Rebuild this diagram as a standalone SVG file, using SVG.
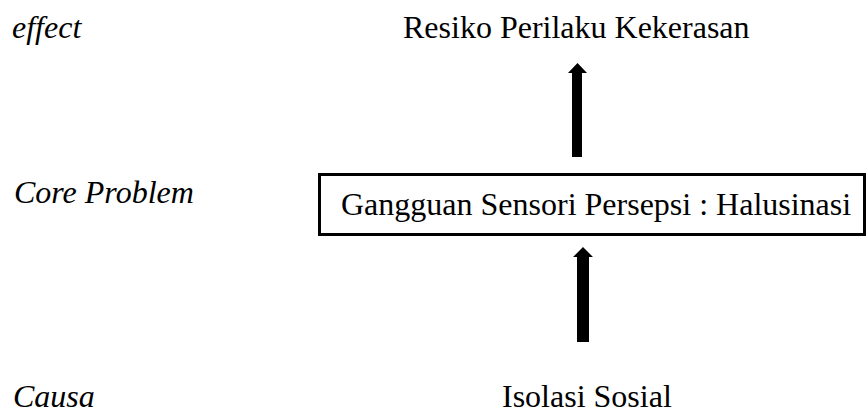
<svg xmlns="http://www.w3.org/2000/svg" width="868" height="414" viewBox="0 0 868 414">
  <style>
    text { font-family: "Liberation Serif", "Times New Roman", serif; font-size: 32px; fill: #000; }
    .it { font-style: italic; }
    .box { fill: #fff; stroke: #000; stroke-width: 3; }
    .arrow { fill: #000; }
  </style>
  <rect width="868" height="414" fill="#fff"/>

  <!-- level labels -->
  <g id="level-labels">
    <text class="it" x="12" y="38">effect</text>
    <text class="it" x="14" y="203">Core Problem</text>
    <text class="it" x="13" y="407">Causa</text>
  </g>

  <g id="node-effect">
    <text x="403" y="38">Resiko Perilaku Kekerasan</text>
  </g>

  <g id="node-core">
    <rect class="box" x="319.5" y="174.5" width="545" height="60"/>
    <text x="341" y="215">Gangguan Sensori Persepsi : Halusinasi</text>
  </g>

  <g id="node-cause">
    <text x="502" y="407">Isolasi Sosial</text>
  </g>

  <!-- block arrows pointing upward -->
  <g id="connectors">
    <polygon class="arrow" points="572,157 572,73 568,73 577.5,63 587,73 582,73 582,157"/>
    <polygon class="arrow" points="577,342 577,257 573,257 583,247 593,257 589,257 589,342"/>
  </g>
</svg>
